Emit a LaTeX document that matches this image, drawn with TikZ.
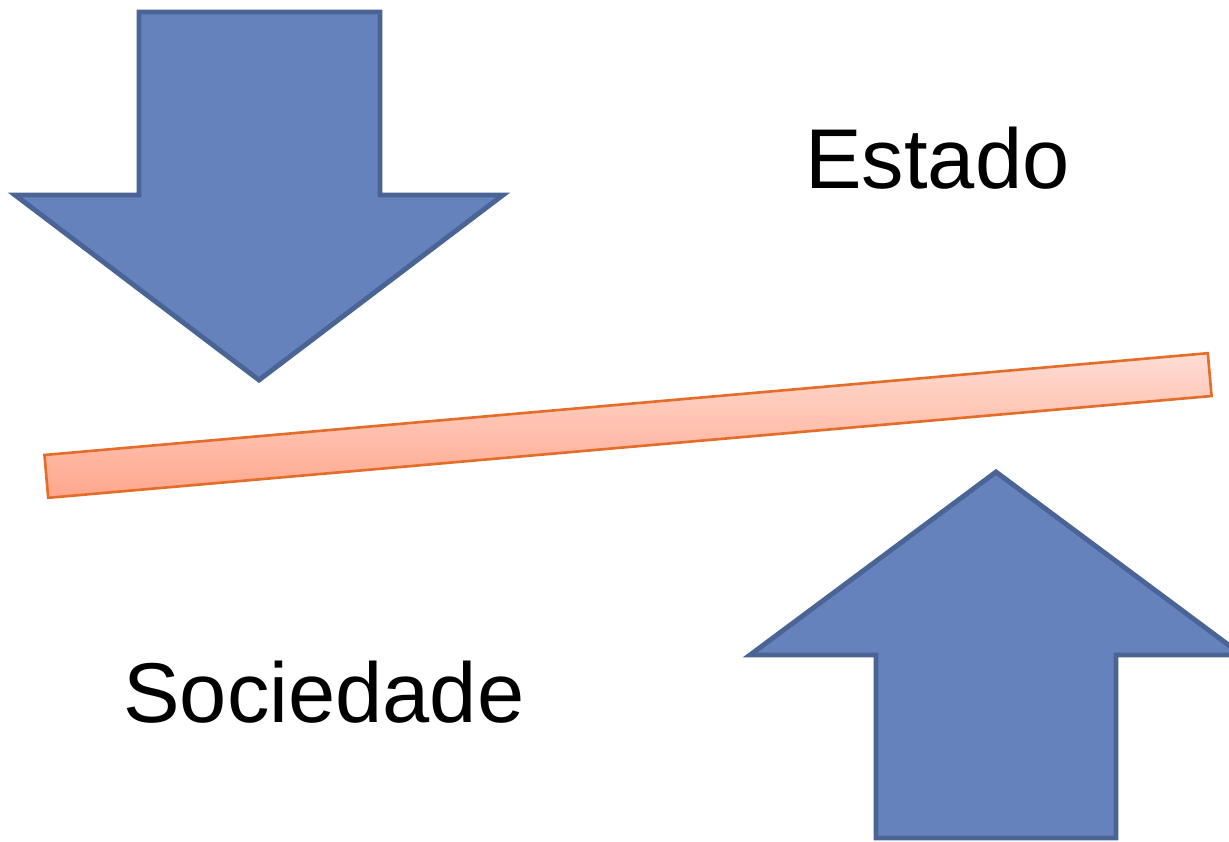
\documentclass[tikz,border=0pt]{standalone}
\usepackage{fontspec}
\setmainfont{Liberation Sans}
\usepackage{tikz}
\usepackage{xcolor}
\definecolor{arrowfill}{HTML}{6582BD}
\definecolor{arrowline}{HTML}{4A6496}
\definecolor{barline}{HTML}{E56D2A}
\definecolor{bartop}{HTML}{FFDCD3}
\definecolor{barbottom}{HTML}{FFA68C}

\begin{document}
\begin{tikzpicture}[x=0.02cm, y=-0.02cm,
    blockarrow/.style={fill=arrowfill, draw=arrowline, line width=2.8pt, line join=miter},
    wordtxt/.style={inner sep=0pt, anchor=base west, font=\fontsize{48.3}{58}\selectfont}]
     \useasboundingbox (0,0) rectangle (1229,841);
     \draw[blockarrow] (139,12) -- (380,12) -- (380,195) -- (503,195) -- (259,380)
          -- (15,195) -- (139,195) -- cycle;
     \draw[blockarrow] (996,472) -- (1242,655) -- (1116,655) -- (1116,838)
          -- (876,838) -- (876,655) -- (750,655) -- cycle;
     \node[rectangle, rotate=5, minimum width=23.36cm, minimum height=0.86cm, inner sep=0pt,
          top color=bartop, bottom color=barbottom, draw=barline, line width=1.5pt]
          (bar) at (628,425.5) {};
     \node[wordtxt] (estado) at (805,189) {Estado};
     \node[wordtxt] (sociedade) at (123,722) {Sociedade};
\end{tikzpicture}
\end{document}
